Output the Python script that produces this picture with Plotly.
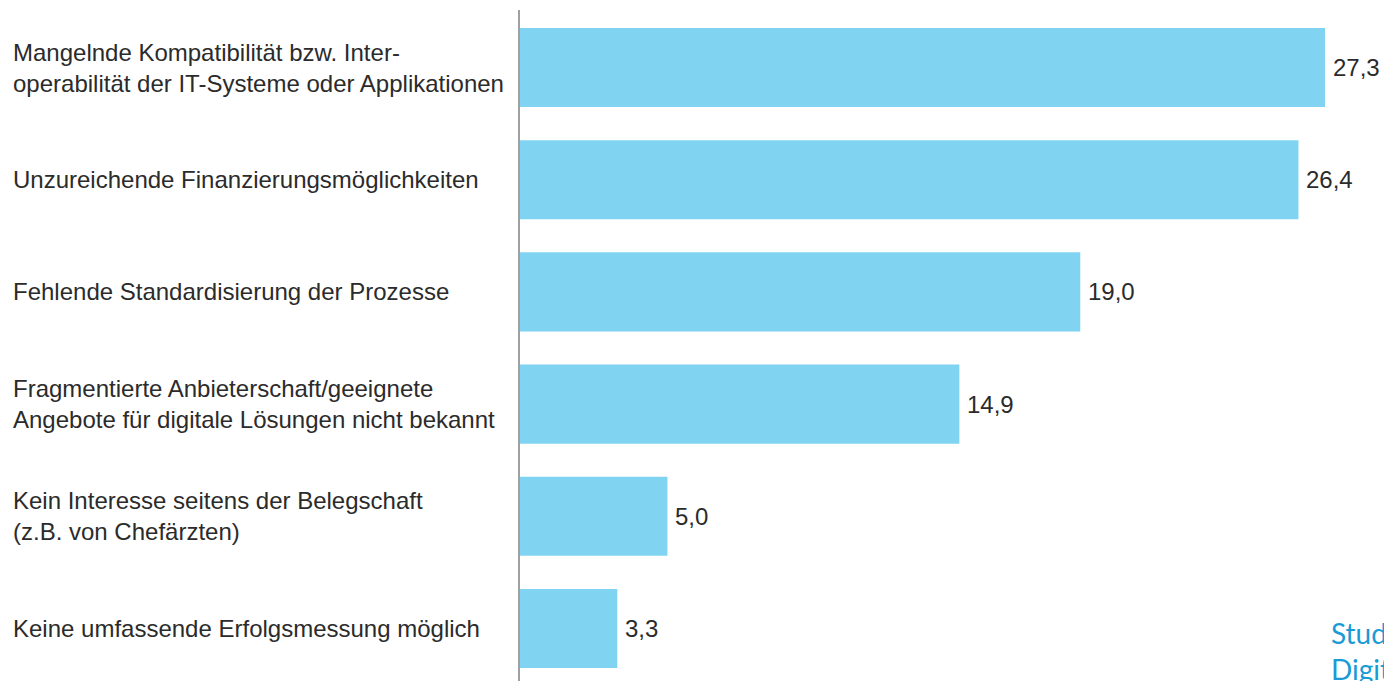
import plotly.graph_objects as go

categories = [
    "Mangelnde Kompatibilität bzw. Inter-<br>operabilität der IT-Systeme oder Applikationen",
    "Unzureichende Finanzierungsmöglichkeiten",
    "Fehlende Standardisierung der Prozesse",
    "Fragmentierte Anbieterschaft/geeignete<br>Angebote für digitale Lösungen nicht bekannt",
    "Kein Interesse seitens der Belegschaft<br>(z.B. von Chefärzten)",
    "Keine umfassende Erfolgsmessung möglich",
]
values = [27.3, 26.4, 19.0, 14.9, 5.0, 3.3]
value_labels = ["27,3", "26,4", "19,0", "14,9", "5,0", "3,3"]
source_lines = ["Studie", "Digitalisierung"]

W, H = 1384, 681
L = 520
plot_w = W - L
px_per_unit = (1325 - 520) / 27.3
xmax = plot_w / px_per_unit

ypos = list(range(len(categories)))

FONT = "Liberation Sans, Arial, sans-serif"
FS = 24

fig = go.Figure(go.Bar(
    x=values, y=ypos, orientation="h",
    marker=dict(color="#80D3F1", line=dict(width=0)),
    width=0.705,
    hoverinfo="skip",
))

annotations = []
for i, (cat, v, lab) in enumerate(zip(categories, values, value_labels)):
    annotations.append(dict(
        x=-509 / plot_w, xref="paper", y=i, yref="y",
        text=cat, showarrow=False, xanchor="left", yanchor="middle", align="left",
        font=dict(family=FONT, size=FS, color="#2b2b2b"),
    ))
    annotations.append(dict(
        x=v, xref="x", y=i, yref="y", xshift=6,
        text=lab, showarrow=False, xanchor="left", yanchor="middle",
        font=dict(family=FONT, size=FS, color="#2b2b2b"),
    ))

top, bottom = 10, 0
plot_h = H - top - bottom
for line, ypix in zip(source_lines, [633, 669]):
    annotations.append(dict(
        x=(1329 - L) / plot_w, xref="paper", y=1 - (ypix - top) / plot_h, yref="paper",
        text=line, showarrow=False, xanchor="left", yanchor="middle",
        font=dict(family="Lato, Open Sans, sans-serif", size=28, color="#1a9ad6"),
    ))

y_top = 0 - (67.5 - 10) / 112.2
y_bot = 5 + (681 - 628.5) / 112.2

fig.update_layout(
    width=W, height=H,
    margin=dict(l=L, r=0, t=top, b=bottom, pad=0),
    paper_bgcolor="white", plot_bgcolor="white",
    showlegend=False,
    xaxis=dict(range=[0, xmax], visible=False, fixedrange=True),
    yaxis=dict(range=[y_bot, y_top], showticklabels=False, showgrid=False, zeroline=False,
               showline=True, linecolor="#a0a0a0", linewidth=1.5, ticks="", fixedrange=True),
    annotations=annotations,
)

fig.write_html("out.html")
